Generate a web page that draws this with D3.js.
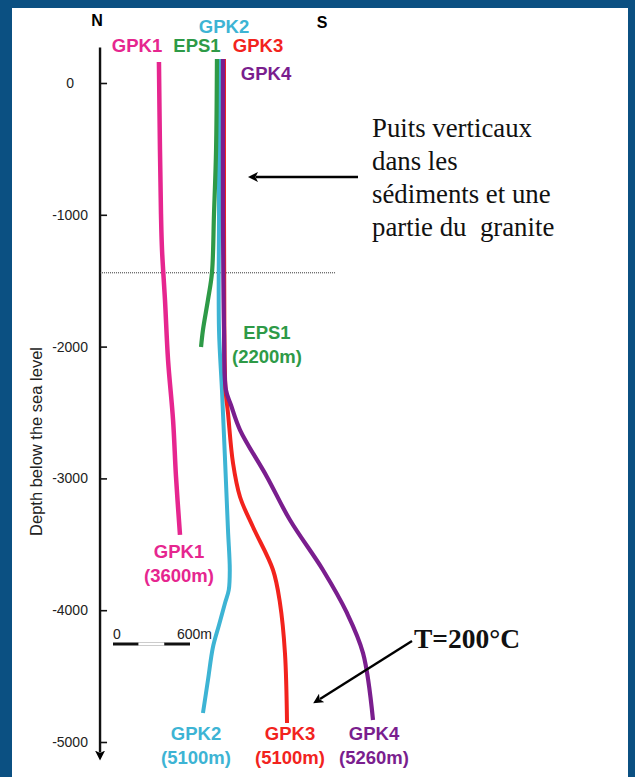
<!DOCTYPE html>
<html>
<head>
<meta charset="utf-8">
<script src="https://cdn.jsdelivr.net/npm/d3@7"></script>
<style>
  html, body { margin: 0; padding: 0; background: #0b5082; }
  svg { display: block; }
</style>
</head>
<body>
<svg id="chart" width="635" height="777"></svg>
<script>
// ---------- DATA ----------
// depth axis (elevation, m)
const tickValues = [0, -1000, -2000, -3000, -4000, -5000];
const tickLabels = ["0", "-1000", "-2000", "-3000", "-4000", "-5000"];
const axisTitle = "Depth below the sea level";

// wells: [horizontal offset (m, from scale-bar origin), elevation (m)]
const wellNames = ["GPK1", "GPK2", "GPK3", "GPK4", "EPS1"];
const gpk1 = [[358,159],[366,-508],[374,-994],[382,-1267],[405,-1646],[429,-2102],[468,-2557],[491,-2989],[522,-3429]];
const eps1 = [[810,182],[803,-508],[787,-994],[771,-1442],[740,-1646],[701,-1874],[686,-2003]];
const gpk2 = [[826,182],[826,-994],[826,-1874],[849,-2329],[873,-2860],[896,-3391],[910,-3695],[902,-3847],[873,-3945],[826,-4112],[779,-4279],[740,-4530],[701,-4780]];
const gpk3 = [[865,182],[865,-994],[868,-1874],[877,-2329],[896,-2504],[935,-2883],[990,-3141],[1091,-3369],[1247,-3695],[1301,-3945],[1340,-4325],[1356,-4856]];
const gpk4 = [[857,182],[857,-994],[865,-1874],[880,-2329],[919,-2443],[990,-2633],[1200,-2989],[1379,-3316],[1636,-3695],[1823,-4021],[1948,-4325],[2026,-4833]];
const depthLabels = ["(3600m)", "(5100m)", "(5100m)", "(5260m)", "(2200m)"];

const graniteTop = -1440;      // dotted line
const scaleBar = [0, 200, 400, 600];
const scaleBarLabels = ["0", "600m"];

const noteLines = ["Puits verticaux", "dans les", "sédiments et une", "partie du\u00a0 granite"];
const tempLabel = "T=200°C";

// ---------- SETUP ----------
const svg = d3.select("#chart");
const W = 635, H = 777;

svg.append("rect").attr("x", 0).attr("y", 0).attr("width", W).attr("height", H).attr("fill", "#0b5082");
svg.append("rect").attr("x", 12).attr("y", 8).attr("width", 616).attr("height", H - 8).attr("fill", "#ffffff");

const y = d3.scaleLinear().domain([0, -5000]).range([83, 742]);
const x = d3.scaleLinear().domain([0, 600]).range([113, 190]);
const axisX = x(-101);

const colors = { GPK1: "#e6268f", EPS1: "#2e9a47", GPK2: "#3db4d4", GPK3: "#f2231d", GPK4: "#7a1e8e" };
const sansFont = "'Liberation Sans', Arial, sans-serif";
const serifFont = "'Liberation Serif', 'Times New Roman', serif";

const defs = svg.append("defs");
defs.append("marker").attr("id", "arrow")
  .attr("viewBox", "0 0 10 10").attr("refX", 2).attr("refY", 5)
  .attr("markerWidth", 4.2).attr("markerHeight", 4.2).attr("orient", "auto")
  .append("path").attr("d", "M0,0 L10,5 L0,10 L2.5,5 Z").attr("fill", "#000");

// ---------- AXIS ----------
const axis = d3.axisRight(y).tickValues(tickValues)
  .tickFormat((d, i) => tickLabels[i]).tickSize(7).tickPadding(0);
const gAxis = svg.append("g").attr("transform", `translate(${axisX},0)`).call(axis);
gAxis.select(".domain").remove();
gAxis.selectAll(".tick line").attr("stroke", "#111").attr("stroke-width", 1.6);
gAxis.selectAll(".tick text")
  .attr("x", -30).attr("text-anchor", "middle")
  .attr("font-family", sansFont).attr("font-size", 14).attr("fill", "#222");

// axis line with arrow at bottom
svg.append("line")
  .attr("x1", axisX).attr("x2", axisX)
  .attr("y1", y(270)).attr("y2", y(-5080))
  .attr("stroke", "#111").attr("stroke-width", 2.4)
  .attr("marker-end", "url(#arrow)");

svg.append("text")
  .attr("transform", `translate(42,${y(-2720)}) rotate(-90)`)
  .attr("text-anchor", "middle")
  .attr("font-family", sansFont).attr("font-size", 16.5).attr("fill", "#222")
  .text(axisTitle);

// N / S
svg.append("text").attr("x", 97).attr("y", 26).attr("text-anchor", "middle")
  .attr("font-family", sansFont).attr("font-weight", "bold").attr("font-size", 16).text("N");
svg.append("text").attr("x", 322).attr("y", 28).attr("text-anchor", "middle")
  .attr("font-family", sansFont).attr("font-weight", "bold").attr("font-size", 16).text("S");

// dotted granite line
svg.append("line")
  .attr("x1", axisX).attr("x2", x(1730))
  .attr("y1", y(graniteTop)).attr("y2", y(graniteTop))
  .attr("stroke", "#333").attr("stroke-width", 1).attr("stroke-dasharray", "1,1");

// ---------- WELLS ----------
const line = d3.line().x(d => x(d[0])).y(d => y(d[1])).curve(d3.curveCatmullRom.alpha(0.5));
const wells = [
  { name: "GPK1", data: gpk1, w: 4.5 },
  { name: "GPK2", data: gpk2, w: 4 },
  { name: "GPK3", data: gpk3, w: 4 },
  { name: "GPK4", data: gpk4, w: 4.2 },
  { name: "EPS1", data: eps1, w: 4.2 }
];
svg.append("g").selectAll("path").data(wells).join("path")
  .attr("d", d => line(d.data))
  .attr("fill", "none")
  .attr("stroke", d => colors[d.name])
  .attr("stroke-width", d => d.w);

const labelSize = 18.5;
// top labels
const topLabels = [
  { name: "GPK1", x: 137, y: 52 },
  { name: "EPS1", x: 197, y: 52 },
  { name: "GPK2", x: 224, y: 33 },
  { name: "GPK3", x: 258, y: 52 },
  { name: "GPK4", x: 266, y: 80 }
];
svg.append("g").selectAll("text").data(topLabels).join("text")
  .attr("x", d => d.x).attr("y", d => d.y).attr("text-anchor", "middle")
  .attr("font-family", sansFont).attr("font-weight", "bold").attr("font-size", labelSize)
  .attr("fill", d => colors[d.name]).text(d => d.name);

// bottom labels (name + measured depth)
const bottomLabels = [
  { name: "GPK1", i: 0, x: 179, y: 558 },
  { name: "GPK2", i: 1, x: 196, y: 740 },
  { name: "GPK3", i: 2, x: 290, y: 740 },
  { name: "GPK4", i: 3, x: 374, y: 740 },
  { name: "EPS1", i: 4, x: 267, y: 339 }
];
const bl = svg.append("g").selectAll("g").data(bottomLabels).join("g");
bl.append("text").attr("x", d => d.x).attr("y", d => d.y).attr("text-anchor", "middle")
  .attr("font-family", sansFont).attr("font-weight", "bold").attr("font-size", labelSize)
  .attr("fill", d => colors[d.name]).text(d => d.name);
bl.append("text").attr("x", d => d.x).attr("y", d => d.y + 24).attr("text-anchor", "middle")
  .attr("font-family", sansFont).attr("font-weight", "bold").attr("font-size", labelSize)
  .attr("fill", d => colors[d.name]).text(d => depthLabels[d.i]);

// ---------- SCALE BAR ----------
const sbY = 644;
svg.append("g").selectAll("rect").data(d3.pairs(scaleBar)).join("rect")
  .attr("x", d => x(d[0])).attr("y", sbY - 1.5)
  .attr("width", d => x(d[1]) - x(d[0])).attr("height", 3)
  .attr("fill", (d, i) => i === 1 ? "#fff" : "#111")
  .attr("stroke", (d, i) => i === 1 ? "#aaa" : "none").attr("stroke-width", 0.6);
svg.append("text").attr("x", x(0)).attr("y", 639)
  .attr("font-family", sansFont).attr("font-size", 14).attr("fill", "#222").text(scaleBarLabels[0]);
svg.append("text").attr("x", x(600) + 22).attr("y", 639).attr("text-anchor", "end")
  .attr("font-family", sansFont).attr("font-size", 14).attr("fill", "#222").text(scaleBarLabels[1]);

// ---------- ANNOTATIONS ----------
svg.append("line").attr("x1", 358).attr("y1", 177).attr("x2", 256).attr("y2", 177)
  .attr("stroke", "#000").attr("stroke-width", 2.4).attr("marker-end", "url(#arrow)");
const note = svg.append("text").attr("font-family", serifFont).attr("font-size", 26.8).attr("fill", "#111");
note.selectAll("tspan").data(noteLines).join("tspan")
  .attr("x", 372).attr("y", (d, i) => 137 + i * 33).text(d => d);

svg.append("line").attr("x1", 412).attr("y1", 641).attr("x2", 320).attr("y2", 699)
  .attr("stroke", "#000").attr("stroke-width", 2.4).attr("marker-end", "url(#arrow)");
svg.append("text").attr("x", 414).attr("y", 648)
  .attr("font-family", serifFont).attr("font-weight", "bold").attr("font-size", 27.5).attr("fill", "#111")
  .text(tempLabel);
</script>
</body>
</html>
